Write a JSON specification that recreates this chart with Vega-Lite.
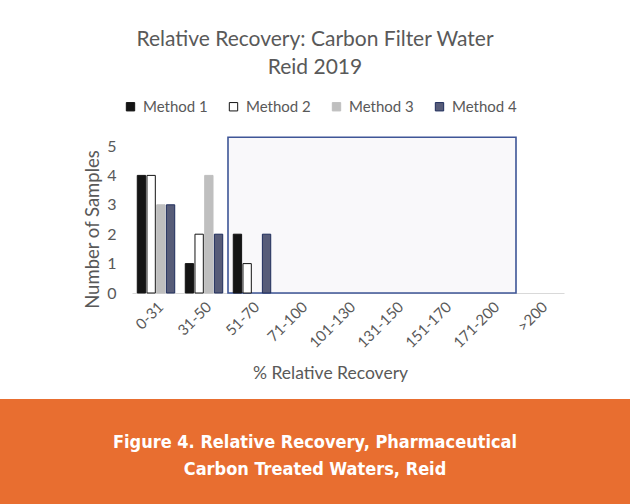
{
  "$schema": "https://vega.github.io/schema/vega-lite/v6.json",
  "background": "white",
  "padding": {"top": 29, "left": 0, "right": 0, "bottom": 0},
  "autosize": {"type": "pad"},
  "config": {"view": {"stroke": null}, "font": "Lato"},
  "title": {
    "text": ["Relative Recovery: Carbon Filter Water", "Reid 2019"],
    "fontSize": 21,
    "fontWeight": "normal",
    "color": "#595959",
    "font": "Lato",
    "lineHeight": 28,
    "anchor": "middle",
    "offset": 21
  },
  "spacing": 17,
  "resolve": {"legend": {"color": "independent", "stroke": "independent"}},
  "vconcat": [
    {
      "spacing": 0,
      "resolve": {"legend": {"color": "independent", "stroke": "independent"}},
      "hconcat": [
        {
          "width": 66,
          "height": 147,
          "data": {"values": []},
          "mark": {"type": "rect", "opacity": 0},
          "encoding": {}
        },
        {
          "width": 432,
          "height": 147,
          "layer": [
            {
              "data": {"values": [{"first": 2, "last": 8, "bottom": 0, "top": 5.3}]},
              "mark": {"type": "rect", "fill": "#f9f8fa", "stroke": "#3e5597", "strokeWidth": 1.6},
              "encoding": {
                "x": {"field": "first", "type": "quantitative", "scale": {"domain": [0, 9], "nice": false, "zero": false}, "axis": null},
                "x2": {"field": "last"},
                "y": {
                  "field": "bottom",
                  "type": "quantitative",
                  "scale": {"domain": [0, 5], "nice": false},
                  "axis": {
                    "values": [0, 1, 2, 3, 4, 5],
                    "labelOverlap": false,
                    "title": "Number of Samples",
                    "titleFontSize": 18.5,
                    "titleFontWeight": "normal",
                    "titleColor": "#595959",
                    "labelFontSize": 16,
                    "labelColor": "#595959",
                    "labelPadding": 16,
                    "ticks": false,
                    "domain": false,
                    "grid": false,
                    "minExtent": 66,
                    "titleX": -30,
                    "titleY": 83
                  }
                },
                "y2": {"field": "top"}
              }
            },
            {
              "data": {
                "values": [
                  {"range": "0-31", "method": "Method 1", "count": 4},
                  {"range": "0-31", "method": "Method 2", "count": 4},
                  {"range": "0-31", "method": "Method 3", "count": 3},
                  {"range": "0-31", "method": "Method 4", "count": 3},
                  {"range": "31-50", "method": "Method 1", "count": 1},
                  {"range": "31-50", "method": "Method 2", "count": 2},
                  {"range": "31-50", "method": "Method 3", "count": 4},
                  {"range": "31-50", "method": "Method 4", "count": 2},
                  {"range": "51-70", "method": "Method 1", "count": 2},
                  {"range": "51-70", "method": "Method 2", "count": 1},
                  {"range": "51-70", "method": "Method 4", "count": 2}
                ]
              },
              "mark": {"type": "bar", "strokeWidth": 1},
              "encoding": {
                "x": {
                  "field": "range",
                  "type": "nominal",
                  "scale": {
                    "domain": ["0-31", "31-50", "51-70", "71-100", "101-130", "131-150", "151-170", "171-200", ">200"],
                    "paddingInner": 0.22,
                    "paddingOuter": 0.11
                  },
                  "axis": {
                    "title": "% Relative Recovery",
                    "labelAngle": -45,
                    "labelFontSize": 15,
                    "labelColor": "#595959",
                    "titleFontSize": 17.5,
                    "titleFontWeight": "normal",
                    "titleColor": "#595959",
                    "ticks": false,
                    "domainColor": "#d9d9d9",
                    "domainWidth": 1,
                    "labelPadding": 6,
                    "titlePadding": 14,
                    "titleX": 198,
                    "grid": false
                  }
                },
                "xOffset": {
                  "field": "method",
                  "type": "nominal",
                  "scale": {"domain": ["Method 1", "Method 2", "Method 3", "Method 4"], "paddingInner": 0.14}
                },
                "y": {
                  "field": "count",
                  "type": "quantitative",
                  "scale": {"domain": [0, 5], "nice": false},
                  "axis": {
                    "values": [0, 1, 2, 3, 4, 5],
                    "labelOverlap": false,
                    "title": "Number of Samples",
                    "titleFontSize": 18.5,
                    "titleFontWeight": "normal",
                    "titleColor": "#595959",
                    "labelFontSize": 16,
                    "labelColor": "#595959",
                    "labelPadding": 16,
                    "ticks": false,
                    "domain": false,
                    "grid": false,
                    "minExtent": 66,
                    "titleX": -30,
                    "titleY": 83
                  }
                },
                "color": {
                  "field": "method",
                  "type": "nominal",
                  "scale": {
                    "domain": ["Method 1", "Method 2", "Method 3", "Method 4"],
                    "range": ["#141414", "#ffffff", "#bfbfbf", "#575c78"]
                  },
                  "legend": {
                    "orient": "none",
                    "legendX": -9,
                    "legendY": -47,
                    "direction": "horizontal",
                    "title": null,
                    "symbolType": "square",
                    "symbolSize": 70,
                    "symbolStrokeWidth": 1,
                    "labelFontSize": 15,
                    "labelColor": "#595959",
                    "labelOffset": 5,
                    "columnPadding": 18,
                    "padding": 0
                  }
                },
                "stroke": {
                  "field": "method",
                  "type": "nominal",
                  "scale": {
                    "domain": ["Method 1", "Method 2", "Method 3", "Method 4"],
                    "range": ["#141414", "#141414", "#bfbfbf", "#1f2d5c"]
                  },
                  "legend": {
                    "orient": "none",
                    "legendX": -9,
                    "legendY": -47,
                    "direction": "horizontal",
                    "title": null,
                    "symbolType": "square",
                    "symbolSize": 70,
                    "symbolStrokeWidth": 1,
                    "labelFontSize": 15,
                    "labelColor": "#595959",
                    "labelOffset": 5,
                    "columnPadding": 18,
                    "padding": 0
                  }
                }
              }
            }
          ],
          "resolve": {"scale": {"x": "independent", "xOffset": "independent"}}
        }
      ]
    },
    {
      "width": 630,
      "height": 106,
      "view": {"fill": "#e86e30", "stroke": null},
      "data": {"values": [{"figure": "Figure 4", "caption": ["Figure 4. Relative Recovery, Pharmaceutical", "Carbon Treated Waters, Reid"]}]},
      "mark": {
        "type": "text",
        "font": "DejaVu Sans Condensed, Roboto, sans-serif",
        "fontWeight": "bold",
        "fontSize": 18,
        "color": "white",
        "lineHeight": 27,
        "align": "center",
        "baseline": "middle",
        "dy": -9
      },
      "encoding": {
        "x": {"field": "figure", "type": "nominal", "axis": null},
        "y": {"field": "figure", "type": "nominal", "axis": null},
        "text": {"field": "caption"}
      }
    }
  ]
}
